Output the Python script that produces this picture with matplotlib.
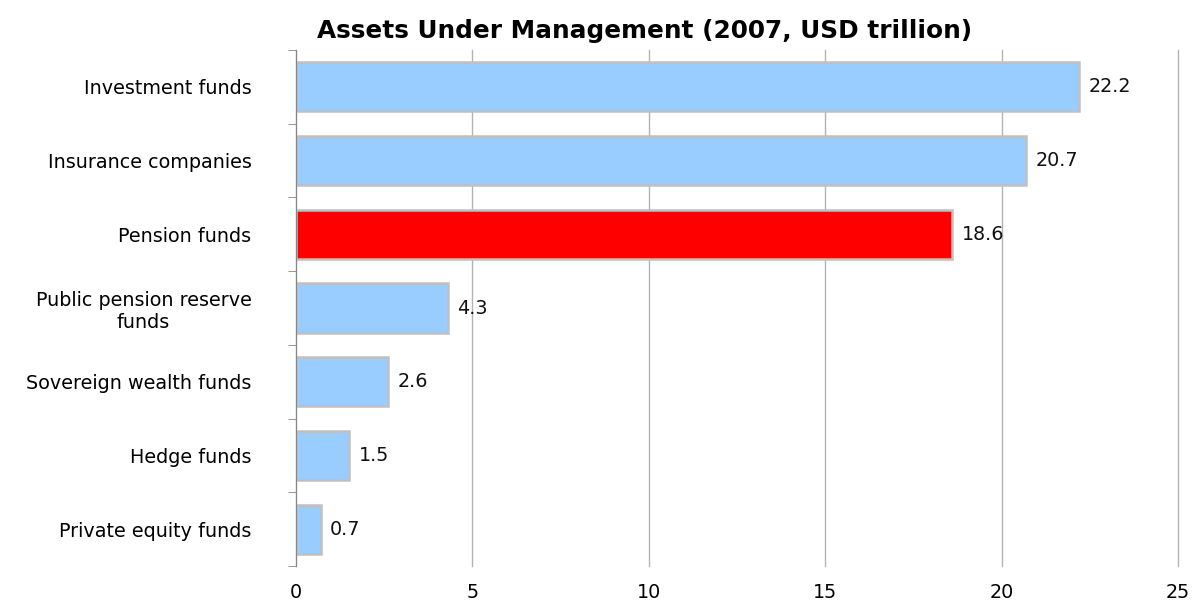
import numpy as np, matplotlib
matplotlib.use("Agg"); import matplotlib.pyplot as plt

categories = ["Investment funds", "Insurance companies", "Pension funds",
              "Public pension reserve\nfunds", "Sovereign wealth funds",
              "Hedge funds", "Private equity funds"]
values = [22.2, 20.7, 18.6, 4.3, 2.6, 1.5, 0.7]
highlight = "Pension funds"
xticks = [0, 5, 10, 15, 20, 25]
title = "Assets Under Management (2007, USD trillion)"

BLUE = "#99ccff"; RED = "#ff0000"; EDGE = "#c0c0c0"; GRID = "#b3b3b3"; SPINE = "#868686"
FS = 13.8
plt.rcParams.update({"font.family": "DejaVu Sans", "font.size": FS})

fig = plt.figure(figsize=(11.96, 6.06), dpi=100)
ax = fig.add_axes([296/1196, 1-566/606, (1178-296)/1196, (566-50)/606])
y = np.arange(len(categories))
cols = [RED if c == highlight else BLUE for c in categories]
ax.barh(y, values, height=0.665, color=cols, edgecolor=EDGE, linewidth=1.8, zorder=3)
for yi, v in zip(y, values):
    ax.text(v + 0.27, yi, "%.1f" % v, va="center", ha="left", fontsize=FS, color="#111111", zorder=4)

ax.set_xlim(0, 25); ax.set_ylim(len(categories) - 0.5, -0.5)
ax.set_xticks(xticks); ax.set_xticklabels([str(t) for t in xticks])
ax.set_yticks(y); ax.set_yticklabels(categories, multialignment="center")
ax.set_yticks(np.arange(len(categories) + 1) - 0.5, minor=True)
ax.tick_params(axis="y", which="major", length=0, pad=32)
ax.tick_params(axis="y", which="minor", length=6, color=SPINE, direction="out")
ax.tick_params(axis="x", length=0, pad=12)
ax.xaxis.grid(True, color=GRID, linewidth=1.0, zorder=0)
for gl in ax.get_xgridlines(): gl.set_clip_on(False)
ax.set_axisbelow(True)
for s in ("top", "right", "bottom"): ax.spines[s].set_visible(False)
ax.spines["left"].set_color(SPINE); ax.spines["left"].set_zorder(5)
fig.text(645/1196, 1-31/606, title, ha="center", va="center", fontsize=17.8, fontweight="bold")
fig.savefig("out.png", dpi=100, facecolor="white")
